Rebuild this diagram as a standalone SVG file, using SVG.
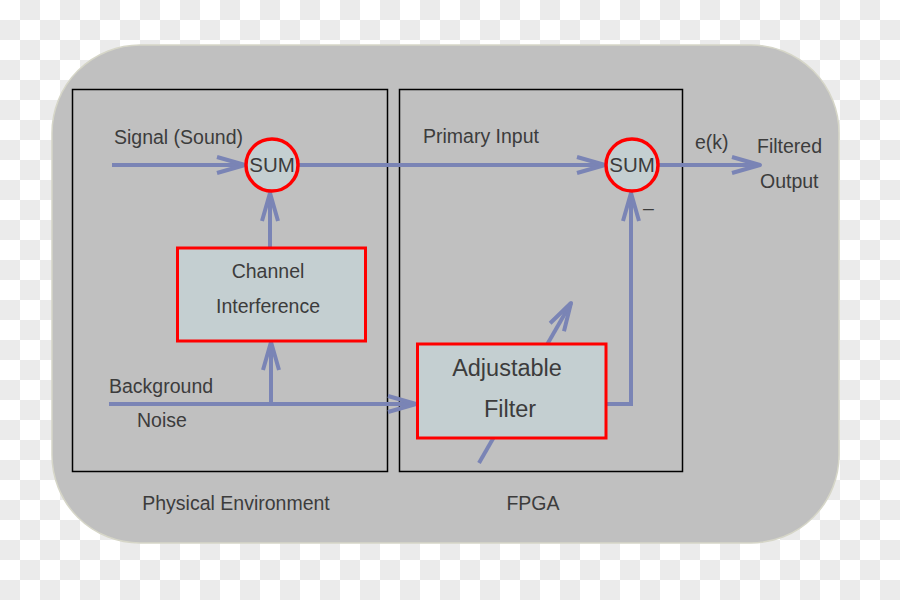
<svg xmlns="http://www.w3.org/2000/svg" width="900" height="600" viewBox="0 0 900 600">
  <defs>
    <pattern id="cb" width="40" height="40" patternUnits="userSpaceOnUse">
      <rect width="40" height="40" fill="#ffffff"/>
      <rect x="20" y="0" width="20" height="20" fill="#ebebeb"/>
      <rect x="0" y="20" width="20" height="20" fill="#ebebeb"/>
    </pattern>
    <marker id="arr" viewBox="-32 -12 36 24" markerWidth="36" markerHeight="24" refX="0" refY="0" orient="auto" markerUnits="userSpaceOnUse">
      <path d="M-28,-8 L0,0 L-28,8" fill="none" stroke="#7a84b5" stroke-width="4" stroke-linejoin="round"/>
    </marker>
    <style>
      .t { font-family: "Liberation Sans", Arial, sans-serif; font-size: 19.5px; fill: #3c3c3c; }
      .big { font-size: 23.5px; }
      .s { font-size: 20.5px; }
      .frame { fill: none; stroke: #000000; stroke-width: 1.5; }
      .box { fill: #c4cfd1; stroke: #ff0000; stroke-width: 3; }
      .sum { fill: #c4cfd1; stroke: #ff0000; stroke-width: 3.5; }
      .wire { fill: none; stroke: #7a84b5; stroke-width: 4; }
    </style>
  </defs>

  <rect width="900" height="600" fill="url(#cb)"/>
  <rect x="52" y="45" width="787" height="498" rx="88" ry="88" fill="#c0c0c0" stroke="#d6d6c8" stroke-width="1.5"/>

  <g id="physical-environment">
    <rect class="frame" x="72.5" y="89.5" width="315" height="382"/>
    <text class="t" x="236" y="510" text-anchor="middle">Physical Environment</text>
  </g>
  <g id="fpga">
    <rect class="frame" x="399.5" y="89.5" width="283" height="382"/>
    <text class="t" x="533" y="510" text-anchor="middle">FPGA</text>
  </g>

  <g id="connectors">
    <line class="wire" x1="112" y1="165" x2="245" y2="165" marker-end="url(#arr)"/>
    <line class="wire" x1="299" y1="165" x2="605" y2="165" marker-end="url(#arr)"/>
    <line class="wire" x1="659" y1="165" x2="760" y2="165" marker-end="url(#arr)"/>
    <line class="wire" x1="270" y1="247" x2="270" y2="193" marker-end="url(#arr)"/>
    <line class="wire" x1="109" y1="404" x2="416" y2="404" marker-end="url(#arr)"/>
    <line class="wire" x1="271" y1="404" x2="271" y2="342" marker-end="url(#arr)"/>
    <polyline class="wire" points="607,404 631,404 631,193" marker-end="url(#arr)"/>
    <line class="wire" x1="479" y1="463" x2="571" y2="303" marker-end="url(#arr)"/>
  </g>

  <g id="sum1">
    <circle class="sum" cx="272" cy="165" r="26"/>
    <text class="t s" x="272" y="172" text-anchor="middle">SUM</text>
  </g>
  <g id="sum2">
    <circle class="sum" cx="632" cy="165" r="26"/>
    <text class="t s" x="632" y="172" text-anchor="middle">SUM</text>
  </g>
  <g id="channel-interference">
    <rect class="box" x="177.5" y="248" width="188" height="93"/>
    <text class="t" x="268" y="278" text-anchor="middle">Channel</text>
    <text class="t" x="268" y="313" text-anchor="middle">Interference</text>
  </g>
  <g id="adjustable-filter">
    <rect class="box" x="417.5" y="344" width="188.5" height="94"/>
    <text class="t big" x="507" y="376" text-anchor="middle">Adjustable</text>
    <text class="t big" x="510" y="417" text-anchor="middle">Filter</text>
  </g>

  <g id="labels">
    <text class="t" x="114" y="144">Signal (Sound)</text>
    <text class="t" x="423" y="143">Primary Input</text>
    <text class="t" x="695" y="149">e(k)</text>
    <text class="t" x="757" y="153">Filtered</text>
    <text class="t" x="760" y="188">Output</text>
    <text class="t" x="109" y="393">Background</text>
    <text class="t" x="137" y="427">Noise</text>
    <text class="t" x="643" y="215">–</text>
  </g>
</svg>
